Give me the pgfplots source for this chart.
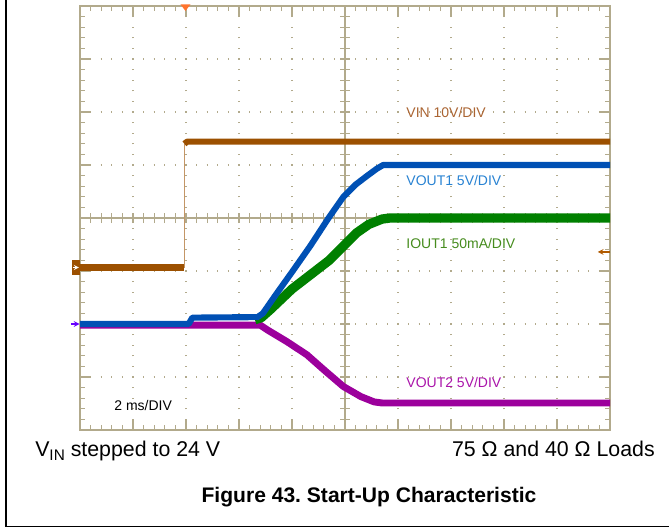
\documentclass[border=0pt]{standalone}
\usepackage{fontspec}
\setmainfont{Liberation Sans}
\usepackage{pgfplots}
\pgfplotsset{compat=1.18}
\frenchspacing
\definecolor{gridc}{RGB}{178,170,140}
\definecolor{vinc}{RGB}{156,80,0}
\definecolor{vout1c}{RGB}{0,80,180}
\definecolor{ioutc}{RGB}{0,128,0}
\definecolor{vout2c}{RGB}{156,0,156}
\definecolor{vinlab}{RGB}{170,100,50}
\definecolor{vout1lab}{RGB}{40,130,210}
\definecolor{ioutlab}{RGB}{70,140,30}
\definecolor{vout2lab}{RGB}{170,20,170}
\definecolor{trigc}{RGB}{255,115,45}
\begin{document}
\begin{tikzpicture}
\path[use as bounding box] (0,0) rectangle (501.75pt,396.75pt);
\draw[line width=1.1pt] (4.5pt,396.75pt) -- (4.5pt,1.9pt) -- (501.75pt,1.9pt);
\begin{axis}[
  at={(60pt,74.25pt)}, anchor=south west,
  width=397.5pt, height=318pt, scale only axis,
  xmin=0, xmax=10, ymin=0, ymax=8,
  xtick={0,...,10}, ytick={0,...,8},
  xticklabels={}, yticklabels={},
  minor tick num=4,
  tick align=inside,
  major tick length=7.5pt, minor tick length=3.75pt,
  every tick/.style={gridc, line width=0.8pt},
  axis line style={gridc, line width=0.9pt},
  grid=major,
  major grid style={gridc, line width=1.1pt, dash pattern=on 0.9pt off 7.05pt, dash phase=0.45pt},
  clip=false,
  every axis plot/.append style={no markers, line join=round},
]
% centre cross of the graticule
\draw[gridc, line width=0.9pt] (axis cs:5,0) -- (axis cs:5,8);
\draw[gridc, line width=0.9pt] (axis cs:0,4) -- (axis cs:10,4);
\pgfplotsinvokeforeach{0.2,0.4,...,9.9}{
  \draw[gridc, line width=0.8pt] (axis cs:#1,4) ++(0,-3.75pt) -- ++(0,7.5pt);
}
\pgfplotsinvokeforeach{0.2,0.4,...,7.9}{
  \draw[gridc, line width=0.8pt] (axis cs:5,#1) ++(-3.75pt,0) -- ++(7.5pt,0);
}

% VIN
\addplot[vinc, line width=4.6pt] coordinates {(0,3.066) (1.97,3.066)};
\addplot[vinc!60!white, line width=1pt] coordinates {(1.97,3.066) (1.97,5.40)};
\addplot[vinc, line width=4.6pt] coordinates {(1.97,5.40) (2.02,5.44) (10,5.44)};

% VOUT2
\addplot[vout2c, line width=5.2pt] coordinates {
  (0,1.98) (3.4,1.98) (3.55,1.88) (3.9,1.67) (4.28,1.42) (4.62,1.12)
  (4.97,0.82) (5.3,0.63) (5.55,0.53) (5.7,0.51) (10,0.51)};

% IOUT1
\addplot[ioutc, line width=7pt] coordinates {
  (3.3,2.08) (3.42,2.12) (3.6,2.28) (4.0,2.66) (4.35,2.93) (4.7,3.2)
  (5.0,3.5) (5.22,3.72) (5.45,3.88) (5.7,3.98) (5.85,4.0) (10,4.0)};

% VOUT1
\addplot[vout1c, line width=4.6pt] coordinates {
  (0,2.0) (2.05,2.0) (2.12,2.12) (3.35,2.13) (3.45,2.2) (3.7,2.56)
  (4.0,2.98) (4.35,3.48) (4.69,4.0) (4.97,4.4) (5.2,4.63) (5.41,4.79)
  (5.6,4.93) (5.72,5.0) (10,5.0)};

% scope markers
\fill[vinc] (axis cs:0,3.066) ++(-6.3pt,-5.3pt) rectangle ++(6.3pt,10.6pt);
\draw[white, line width=0.7pt, -stealth] (axis cs:0,3.066) ++(-5pt,0) -- ++(4.2pt,0);
\draw[blue!60!magenta, line width=1pt, -stealth] (axis cs:0,2.0) ++(-6.5pt,0) -- ++(6.3pt,0);
\fill[trigc] (axis cs:1.99,8) ++(-3.8pt,1.3pt) -- ++(7.6pt,0) -- ++(-3.8pt,-5pt) -- cycle;
\draw[vinc!80!orange, line width=0.9pt, -stealth] (axis cs:10,3.36) -- (axis cs:9.77,3.36);

% channel labels
\node[anchor=west, text=vinlab, font=\fontsize{10.5}{12}\selectfont] at (axis cs:6.07,6.0) {VIN 10V/DIV};
\node[anchor=west, text=vout1lab, font=\fontsize{10.5}{12}\selectfont] at (axis cs:6.07,4.70) {VOUT1 5V/DIV};
\node[anchor=west, text=ioutlab, font=\fontsize{10.5}{12}\selectfont] at (axis cs:6.07,3.51) {IOUT1 50mA/DIV};
\node[anchor=west, text=vout2lab, font=\fontsize{10.5}{12}\selectfont] at (axis cs:6.07,0.89) {VOUT2 5V/DIV};
\node[anchor=west, font=\fontsize{10.5}{12}\selectfont] at (axis cs:0.56,0.47) {2 ms/DIV};
\end{axis}
\node[anchor=base west, font=\fontsize{16}{19}\selectfont, inner sep=0pt] at (26.25pt,54pt)
  {V\raisebox{-0.3ex}{\fontsize{11.5}{13}\selectfont IN} stepped to 24 V};
\node[anchor=base east, font=\fontsize{16}{19}\selectfont, inner sep=0pt] at (491.25pt,54pt)
  {75 Ω and 40 Ω Loads};
\node[anchor=base, font=\fontsize{15.8}{19}\selectfont\bfseries, inner sep=0pt] at (276.75pt,19.5pt)
  {Figure 43. Start-Up Characteristic};
\end{tikzpicture}
\end{document}
